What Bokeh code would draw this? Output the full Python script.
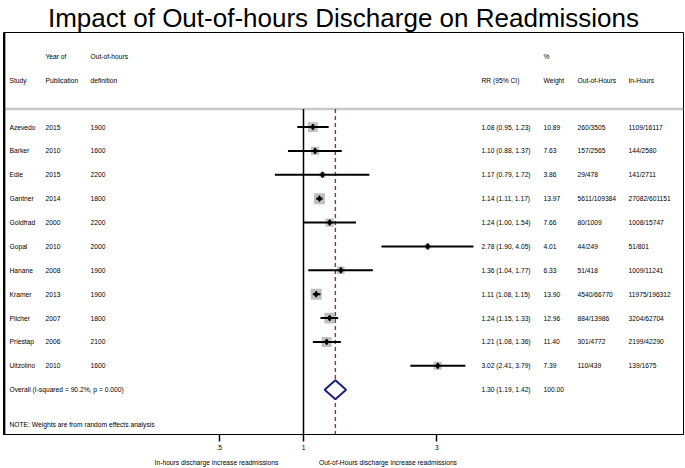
import numpy as np
from bokeh.plotting import figure
from bokeh.models import (Range1d, LogScale, LogAxis, LinearAxis, FixedTicker,
                          Span, ColumnDataSource)
from bokeh.embed import file_html
from bokeh.resources import INLINE
from bokeh.core.properties import value

# ---------------- data ----------------
title = "Impact of Out-of-hours Discharge on Readmissions"
studies = ["Azevedo", "Barker", "Edie", "Gantner", "Goldfrad", "Gopal",
           "Hanane", "Kramer", "Pilcher", "Priestap", "Uitzolino"]
years = [2015, 2010, 2015, 2014, 2000, 2010, 2008, 2013, 2007, 2006, 2010]
definitions = [1900, 1600, 2200, 1800, 2200, 2000, 1900, 1900, 1800, 2100, 1600]
rr = [1.08, 1.10, 1.17, 1.14, 1.24, 2.78, 1.36, 1.11, 1.24, 1.21, 3.02]
rr_lo = [0.95, 0.88, 0.79, 1.11, 1.00, 1.90, 1.04, 1.08, 1.15, 1.08, 2.41]
rr_hi = [1.23, 1.37, 1.72, 1.17, 1.54, 4.05, 1.77, 1.15, 1.33, 1.36, 3.79]
weights = [10.89, 7.63, 3.86, 13.97, 7.66, 4.01, 6.33, 13.90, 12.96, 11.40, 7.39]
out_of_hours = ["260/3505", "157/2565", "29/478", "5611/109384", "80/1009",
                "44/249", "51/418", "4540/66770", "884/13986", "301/4772",
                "110/439"]
in_hours = ["1109/16117", "144/2580", "141/2711", "27082/601151", "1008/15747",
            "51/801", "1009/11241", "11975/196312", "3204/62704", "2199/42290",
            "139/1675"]
overall_rr, overall_lo, overall_hi = 1.30, 1.19, 1.42
overall_weight = 100.00
overall_label = "Overall  (I-squared = 90.2%, p = 0.000)"
note = "NOTE: Weights are from random effects analysis"
header_top = {"year": "Year of", "def": "Out-of-hours", "wt": "%"}
header_bot = {"study": "Study", "year": "Publication", "def": "definition",
              "rr": "RR (95% CI)", "wt": "Weight", "ooh": "Out-of-Hours",
              "inh": "In-Hours"}
ticks = [0.5, 1, 3]
tick_labels = [".5", "1", "3"]
caption_left = "In-hours discharge increase readmissions"
caption_right = "Out-of-Hours discharge increase readmissions"

# ---------------- layout (reference pixel units) ----------------
FONT = "Liberation Sans"
FS = "6.7px"
X0, X1 = 3, 683
X_ONE = 303
PX_PER_LN = 121.5
COL = {"study": 9, "year": 45, "def": 90, "rr": 481, "wt": 543, "ooh": 577, "inh": 628}
ROW0, ROW_H = 125, 24


def yrow(py):
    return (py - ROW0) / ROW_H


rr_edge_lo = float(np.exp((X0 - X_ONE) / PX_PER_LN))
rr_edge_hi = float(np.exp((X1 - X_ONE) / PX_PER_LN))

p = figure(width=685, height=468, output_backend="svg", toolbar_location=None,
           x_range=Range1d(X0, X1), y_range=Range1d(yrow(434), yrow(30)),
           x_axis_type=None, y_axis_type=None,
           min_border_left=3, min_border_right=2, min_border_top=0,
           min_border_bottom=34)
p.extra_x_ranges = {"rr": Range1d(rr_edge_lo, rr_edge_hi)}
p.extra_x_scales = {"rr": LogScale()}
p.outline_line_color = "black"
p.outline_line_width = 1
p.background_fill_color = "white"
p.border_fill_color = "white"

p.title.text = title
p.title.align = "center"
p.title.text_font = FONT
p.title.text_font_size = "26px"
p.title.text_font_style = "normal"
p.title.text_color = "black"
p.title.standoff = 0
p.title.text_line_height = 0.9

# left thick border
p.add_layout(Span(location=X0 + 0.6, dimension="height", line_color="black",
                  line_width=2.5))

# header separator
sep_y = yrow(107)
p.segment(x0=[X0], y0=[sep_y], x1=[X1], y1=[sep_y], line_color="#c8c8c8",
          line_width=2.5)

# text columns
rows = list(range(len(studies)))
src = ColumnDataSource(dict(
    y=rows, study=studies, year=[str(v) for v in years],
    defn=[str(v) for v in definitions],
    rrtxt=[f"{a:.2f} ({b:.2f}, {c:.2f})" for a, b, c in zip(rr, rr_lo, rr_hi)],
    wt=[f"{w:.2f}" for w in weights], ooh=out_of_hours, inh=in_hours,
    lo=rr_lo, hi=rr_hi, rr=rr,
    size=[2.95 * np.sqrt(w) for w in weights]))

txt_kw = dict(text_font=value(FONT), text_font_size=FS, text_baseline="middle",
              text_color="black")
for key, field in [("study", "study"), ("year", "year"), ("def", "defn"),
                   ("rr", "rrtxt"), ("wt", "wt"), ("ooh", "ooh"), ("inh", "inh")]:
    p.text(x=COL[key], y="y", text=field, source=src, **txt_kw)

# headers
for key, t in header_top.items():
    p.text(x=[COL[key]], y=[yrow(54)], text=[t], **txt_kw)
for key, t in header_bot.items():
    p.text(x=[COL[key]], y=[yrow(78)], text=[t], **txt_kw)

# overall row
orow = len(studies)
p.text(x=[COL["study"]], y=[orow], text=[overall_label], **txt_kw)
p.text(x=[COL["rr"]], y=[orow],
       text=[f"{overall_rr:.2f} ({overall_lo:.2f}, {overall_hi:.2f})"], **txt_kw)
p.text(x=[COL["wt"]], y=[orow], text=[f"{overall_weight:.2f}"], **txt_kw)
p.text(x=[COL["study"]], y=[yrow(424)], text=[note], **txt_kw)

# reference lines
y_bot = yrow(434)
p.segment(x0=[1], y0=[sep_y], x1=[1], y1=[y_bot], x_range_name="rr",
          line_color="black", line_width=1.5)
p.segment(x0=[overall_rr], y0=[sep_y], x1=[overall_rr], y1=[y_bot],
          x_range_name="rr", line_color="#a3273a", line_width=1.4,
          line_dash="4 3")

# study marks
p.scatter(x="rr", y="y", size="size", marker="square", source=src,
          x_range_name="rr", fill_color="#bfbfbf", line_color=None)
p.segment(x0="lo", y0="y", x1="hi", y1="y", source=src, x_range_name="rr",
          line_color="black", line_width=2)
p.scatter(x="rr", y="y", size=6, marker="diamond", source=src,
          x_range_name="rr", fill_color="black", line_color="black")

# overall diamond
dh = 9.5 / ROW_H
p.patch(x=[overall_lo, overall_rr, overall_hi, overall_rr],
        y=[orow, orow - dh, orow, orow + dh], x_range_name="rr",
        fill_color="white", line_color="#1c1f7a", line_width=2)

# axes
ax = LogAxis(x_range_name="rr", ticker=FixedTicker(ticks=ticks),
             major_label_overrides={t: l for t, l in zip(ticks, tick_labels)})
ax.minor_tick_line_color = None
ax.major_tick_in = 0
ax.major_tick_out = 7
ax.major_tick_line_width = 1.5
ax.axis_line_color = "black"
ax.axis_line_width = 1.2
ax.major_label_text_font = FONT
ax.major_label_text_font_size = FS
ax.major_label_text_color = "black"
ax.major_label_standoff = 3
p.add_layout(ax, "below")

cap_ticks = [216, 387.5]
cap = LinearAxis(ticker=FixedTicker(ticks=cap_ticks),
                 major_label_overrides={cap_ticks[0]: caption_left,
                                        cap_ticks[1]: caption_right})
cap.axis_line_color = None
cap.major_tick_line_color = None
cap.minor_tick_line_color = None
cap.major_tick_in = 0
cap.major_tick_out = 0
cap.major_label_text_font = FONT
cap.major_label_text_font_size = FS
cap.major_label_text_color = "black"
cap.major_label_standoff = 6
p.add_layout(cap, "below")

open("out.html", "w").write(file_html(p, INLINE))
